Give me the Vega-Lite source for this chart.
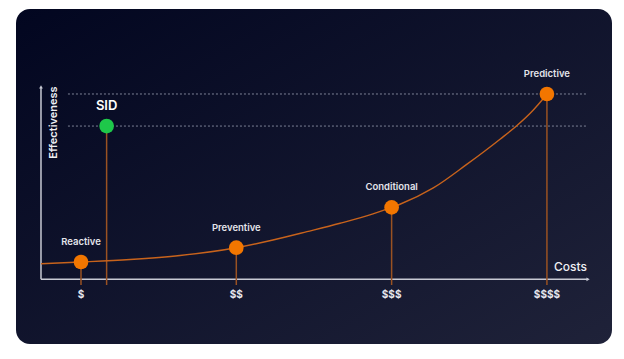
{
  "$schema": "https://vega.github.io/schema/vega-lite/v6.json",
  "width": 624,
  "height": 359,
  "autosize": {"type": "fit", "contains": "padding"},
  "padding": {"left": 16, "top": 9, "right": 12, "bottom": 15},
  "background": "white",
  "config": {
    "view": {
      "stroke": null,
      "cornerRadius": 14,
      "fill": {
        "gradient": "linear",
        "x1": 0, "y1": 0, "x2": 1, "y2": 1,
        "stops": [
          {"offset": 0, "color": "#020620"},
          {"offset": 1, "color": "#1f2239"}
        ]
      }
    },
    "text": {"font": "Inter"}
  },
  "datasets": {
    "points": [
      {"name": "Reactive", "cost": 1.0, "eff": 9.34, "type": "level"},
      {"name": "Preventive", "cost": 2.0, "eff": 17.05, "type": "level"},
      {"name": "Conditional", "cost": 3.0, "eff": 38.8, "type": "level"},
      {"name": "Predictive", "cost": 4.0, "eff": 100, "type": "level"},
      {"name": "SID", "cost": 1.165, "eff": 82.7, "type": "sid"}
    ],
    "curve": [
      {"cost": 0.7424, "eff": 8.42},
      {"cost": 1.0, "eff": 9.34},
      {"cost": 1.3155, "eff": 10.69},
      {"cost": 1.6375, "eff": 12.84},
      {"cost": 2.0, "eff": 17.05},
      {"cost": 2.236, "eff": 21.21},
      {"cost": 2.455, "eff": 25.69},
      {"cost": 2.668, "eff": 30.22},
      {"cost": 2.88, "eff": 35.3},
      {"cost": 3.0, "eff": 38.8},
      {"cost": 3.054, "eff": 40.5},
      {"cost": 3.2685, "eff": 49.3},
      {"cost": 3.4836, "eff": 62.0},
      {"cost": 3.698, "eff": 75.6},
      {"cost": 3.8055, "eff": 82.9},
      {"cost": 3.9125, "eff": 91.4},
      {"cost": 3.977, "eff": 97.6},
      {"cost": 4.0, "eff": 100}
    ],
    "ticks": [
      {"cost": 1, "label": "$"},
      {"cost": 2, "label": "$$"},
      {"cost": 3, "label": "$$$"},
      {"cost": 4, "label": "$$$$"}
    ],
    "guides": [
      {"eff": 100},
      {"eff": 82.7}
    ]
  },
  "encoding": {
    "x": {"type": "quantitative", "scale": {"domain": [0.5815, 4.419], "nice": false, "zero": false}, "axis": null},
    "y": {"type": "quantitative", "scale": {"domain": [-34.92, 145.87], "nice": false, "zero": false}, "axis": null}
  },
  "layer": [
    {
      "data": {"name": "guides"},
      "mark": {"type": "rule", "stroke": "#7d8296", "strokeWidth": 1, "strokeDash": [2, 2]},
      "encoding": {
        "x": {"datum": 0.916, "type": "quantitative"},
        "x2": {"datum": 4.258},
        "y": {"field": "eff", "type": "quantitative"}
      }
    },
    {
      "data": {"values": [{}]},
      "mark": {"type": "rule", "stroke": "#c8cad4", "strokeWidth": 1.5},
      "encoding": {
        "x": {"datum": 0.7424, "type": "quantitative"},
        "y": {"datum": 0, "type": "quantitative"},
        "y2": {"datum": 103.8}
      }
    },
    {
      "data": {"values": [{}]},
      "mark": {"type": "rule", "stroke": "#c8cad4", "strokeWidth": 1.5},
      "encoding": {
        "x": {"datum": 0.7424, "type": "quantitative"},
        "x2": {"datum": 4.265},
        "y": {"datum": 0, "type": "quantitative"}
      }
    },
    {
      "data": {"values": [{}]},
      "mark": {"type": "point", "shape": "triangle-up", "filled": true, "fill": "#c8cad4", "size": 14, "opacity": 1},
      "encoding": {
        "x": {"datum": 0.7424, "type": "quantitative"},
        "y": {"datum": 103.8, "type": "quantitative"}
      }
    },
    {
      "data": {"values": [{}]},
      "mark": {"type": "point", "shape": "triangle-right", "filled": true, "fill": "#c8cad4", "size": 14, "opacity": 1},
      "encoding": {
        "x": {"datum": 4.265, "type": "quantitative"},
        "y": {"datum": 0, "type": "quantitative"}
      }
    },
    {
      "data": {"name": "points"},
      "mark": {"type": "rule", "stroke": "#9a5222", "strokeWidth": 1.5},
      "encoding": {
        "x": {"field": "cost", "type": "quantitative"},
        "y": {"field": "eff", "type": "quantitative"},
        "y2": {"datum": -3.08}
      }
    },
    {
      "data": {"name": "curve"},
      "mark": {"type": "line", "stroke": "#c8631c", "strokeWidth": 1.4, "interpolate": "monotone"},
      "encoding": {
        "x": {"field": "cost", "type": "quantitative"},
        "y": {"field": "eff", "type": "quantitative"}
      }
    },
    {
      "data": {"name": "points"},
      "mark": {"type": "circle", "size": 215, "opacity": 1},
      "encoding": {
        "x": {"field": "cost", "type": "quantitative"},
        "y": {"field": "eff", "type": "quantitative"},
        "color": {"field": "type", "type": "nominal", "scale": {"domain": ["level", "sid"], "range": ["#f27600", "#1ec84a"]}, "legend": null}
      }
    },
    {
      "data": {"name": "points"},
      "mark": {"type": "text", "dy": -20, "baseline": "middle", "align": "center", "fontWeight": 600},
      "encoding": {
        "x": {"field": "cost", "type": "quantitative"},
        "y": {"field": "eff", "type": "quantitative"},
        "text": {"field": "name"},
        "size": {"condition": {"test": "datum.name === 'SID'", "value": 13}, "value": 9.5},
        "color": {"condition": {"test": "datum.name === 'SID'", "value": "#ffffff"}, "value": "#e4e4ea"}
      }
    },
    {
      "data": {"name": "ticks"},
      "mark": {"type": "text", "baseline": "middle", "align": "center", "fontWeight": 700, "fontSize": 10, "color": "#e8e8ee"},
      "encoding": {
        "x": {"field": "cost", "type": "quantitative"},
        "y": {"datum": -8.4, "type": "quantitative"},
        "text": {"field": "label"}
      }
    },
    {
      "data": {"values": [{}]},
      "mark": {"type": "text", "baseline": "middle", "align": "right", "fontWeight": 500, "fontSize": 12, "color": "#f0f0f4"},
      "encoding": {
        "x": {"datum": 4.258, "type": "quantitative"},
        "y": {"datum": 6.48, "type": "quantitative"},
        "text": {"value": "Costs"}
      }
    },
    {
      "data": {"values": [{}]},
      "mark": {"type": "text", "baseline": "middle", "align": "center", "angle": 270, "fontWeight": 600, "fontSize": 11, "color": "#f0f0f4"},
      "encoding": {
        "x": {"datum": 0.826, "type": "quantitative"},
        "y": {"datum": 84.6, "type": "quantitative"},
        "text": {"value": "Effectiveness"}
      }
    }
  ]
}
